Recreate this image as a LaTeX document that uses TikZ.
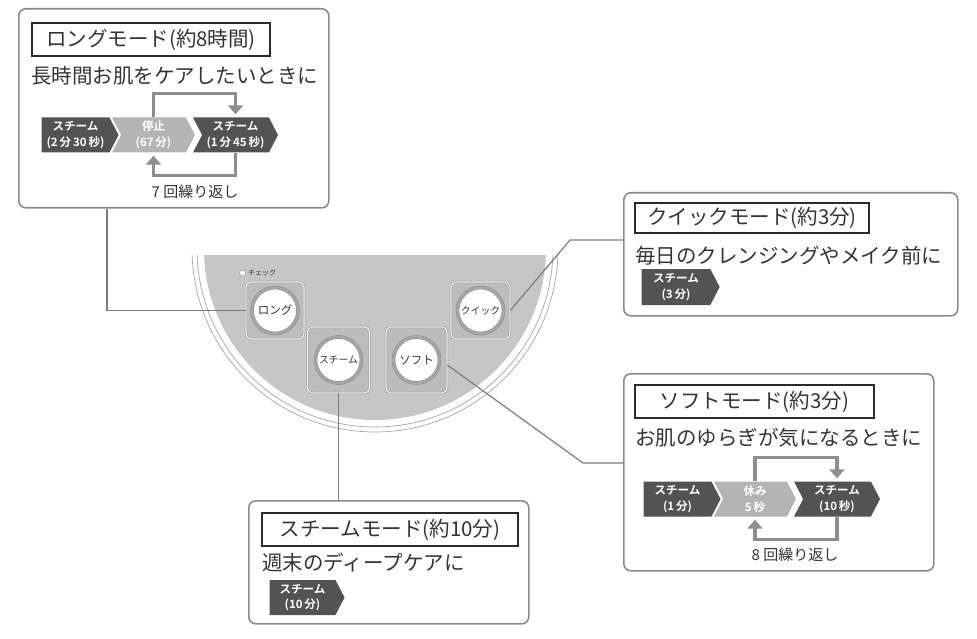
\documentclass[tikz,border=0pt]{standalone}
\usepackage{fontspec}
\setmainfont{Noto Sans CJK JP}[BoldFont={Noto Sans CJK JP Bold}]
\usetikzlibrary{shapes.symbols,arrows.meta,positioning}
\definecolor{txt}{HTML}{333333}
\definecolor{boxline}{HTML}{8A8A8A}
\definecolor{titleline}{HTML}{2B2B2B}
\definecolor{chevdark}{HTML}{535353}
\definecolor{chevlight}{HTML}{B4B4B4}
\definecolor{loopgray}{HTML}{8E8E8E}
\definecolor{panelgray}{HTML}{C6C6C6}
\definecolor{sqfill}{HTML}{BDBDBD}
\definecolor{connline}{HTML}{7C7C7C}
\tikzset{
  modebox/.style={draw=boxline,line width=1.6pt,rounded corners=7pt,anchor=north west,inner sep=0pt},
  titlebox/.style={draw=titleline,line width=2pt,anchor=north west,inner sep=0pt,text=txt,font=\fontsize{20.5}{24}\selectfont},
  subtext/.style={anchor=west,inner sep=0pt,text=txt,font=\fontsize{20.5}{24}\selectfont},
  chev/.style={shape=signal,signal to=east,signal pointer angle=125,fill=#1,text=white,inner sep=0pt,minimum height=35,align=center,font=\bfseries\fontsize{11.5}{15.5}\selectfont},
  chevn/.style={chev=#1,signal from=west},
  loopline/.style={draw=loopgray,line width=3.5pt,-{Triangle[width=15pt,length=9pt]},shorten >=3pt},
  reptext/.style={inner sep=0pt,text=txt,font=\fontsize{15}{18}\selectfont},
  conn/.style={draw=connline,line width=1.2pt},
  btnsq/.style={draw=gray!85,double=gray!10,double distance=1.2pt,line width=.5pt,fill=sqfill,rounded corners=5pt,inner sep=0pt},
  btn/.style={circle,draw=gray!90,double=gray!70,double distance=2.6pt,line width=.5pt,fill=white,minimum size=46,inner sep=0pt,text=txt,font=\fontsize{11.5}{13}\selectfont},
  btnsmall/.style={btn,font=\fontsize{9.8}{12}\selectfont}
}
\begin{document}
\begin{tikzpicture}[x=1pt,y=-1pt]
\useasboundingbox (0,0) rectangle (977,639);
\newcommand{\repeatloop}[2]{\draw[loopline] (#1.north) -- ++(0,-24) -| (#2.north);\draw[loopline] (#2.south) -- ++(0,23) -| (#1.south);}
% panel
\begin{scope}
\clip (180,255) rectangle (570,440);
\fill[white] (375,249) circle[radius=183];
\draw[gray!70,line width=.7pt] (375,249) circle[radius=183];
\draw[gray!70,line width=.7pt] (375,249) circle[radius=178];
\fill[panelgray] (375,249) circle[radius=171];
\end{scope}
\node[btnsq,minimum width=58,minimum height=57] (sqlong) at (275,310.5) {};
\node[btnsq,minimum width=59,minimum height=57] (sqquick) at (480.5,310.5) {};
\node[btnsq,minimum width=62,minimum height=66] (sqsteam) at (338.5,360) {};
\node[btnsq,minimum width=61,minimum height=66] (sqsoft) at (416.5,360) {};
\node[btn] (btnlong) at (sqlong) {ロング};
\node[btnsmall] (btnquick) at (sqquick) {クイック};
\node[btnsmall] (btnsteam) at (sqsteam) {スチーム};
\node[btn] (btnsoft) at (sqsoft) {ソフト};
\node[inner sep=0pt,text=txt,font=\fontsize{7}{8}\selectfont] (check) at (262,273) {チェック};
\node[circle,draw=gray!80,fill=white,line width=.5pt,minimum size=6,inner sep=0pt,left=2pt of check] (lamp) {};
% connectors
\coordinate (qbend) at (570,240);
\coordinate (sbend) at (583,463);
% boxes
\node[modebox,minimum width=310,minimum height=199] (longbox) at (18,8) {};
\node[modebox,minimum width=334,minimum height=123] (quickbox) at (623,192) {};
\node[modebox,minimum width=310,minimum height=197] (softbox) at (623,373) {};
\node[modebox,minimum width=280,minimum height=123] (steambox) at (248,500) {};
\draw[conn] ([xshift=89pt]longbox.south west) |- (sqlong.west);
\draw[conn] (sqquick.east) -- (qbend) -- (qbend -| quickbox.west);
\draw[conn] ([yshift=-5pt]sqsoft.east) -- (sbend) -- (sbend -| softbox.west);
\draw[conn] (sqsteam.south) -- (sqsteam.south |- steambox.north);
% long mode
\node[titlebox,minimum width=238,minimum height=33] (longtitle) at (31,22) {ロングモード(約8時間)};
\node[subtext] (longsub) at (31,76) {長時間お肌をケアしたいときに};
\node[chev=chevdark,minimum width=77] (lc1) at (75.5,135) {スチーム\\(2\,分\,30\,秒)};
\node[chevn=chevlight,minimum width=83] (lc2) at (153.5,135) {停止\\(67\,分)};
\node[chevn=chevdark,minimum width=85] (lc3) at (235.5,135) {スチーム\\(1\,分\,45\,秒)};
\repeatloop{lc2}{lc3}
\node[reptext] (longrep) at (195,192) {7 回繰り返し};
% quick mode
\node[titlebox,minimum width=234,minimum height=30] (quicktitle) at (634,202) {クイックモード(約3分)};
\node[subtext] (quicksub) at (635,256) {毎日のクレンジングやメイク前に};
\node[chev=chevdark,minimum width=78,minimum height=36] (qc1) at (676,287) {スチーム\\(3\,分)};
% soft mode
\node[titlebox,minimum width=239,minimum height=33] (softtitle) at (634,384) {ソフトモード(約3分)};
\node[subtext] (softsub) at (635,438) {お肌のゆらぎが気になるときに};
\node[chev=chevdark,minimum width=77] (sc1) at (677.5,499) {スチーム\\(1\,分)};
\node[chevn=chevlight,minimum width=82] (sc2) at (755,499) {休み\\5\,秒};
\node[chevn=chevdark,minimum width=86] (sc3) at (837,499) {スチーム\\(10\,秒)};
\repeatloop{sc2}{sc3}
\node[reptext] (softrep) at (795,555) {8 回繰り返し};
% steam mode
\node[titlebox,minimum width=256,minimum height=33] (steamtitle) at (261,512) {スチームモード(約10分)};
\node[subtext] (steamsub) at (262,563) {週末のディープケアに};
\node[chev=chevdark,minimum width=75] (tc1) at (302.5,597.5) {スチーム\\(10\,分)};
\end{tikzpicture}
\end{document}
